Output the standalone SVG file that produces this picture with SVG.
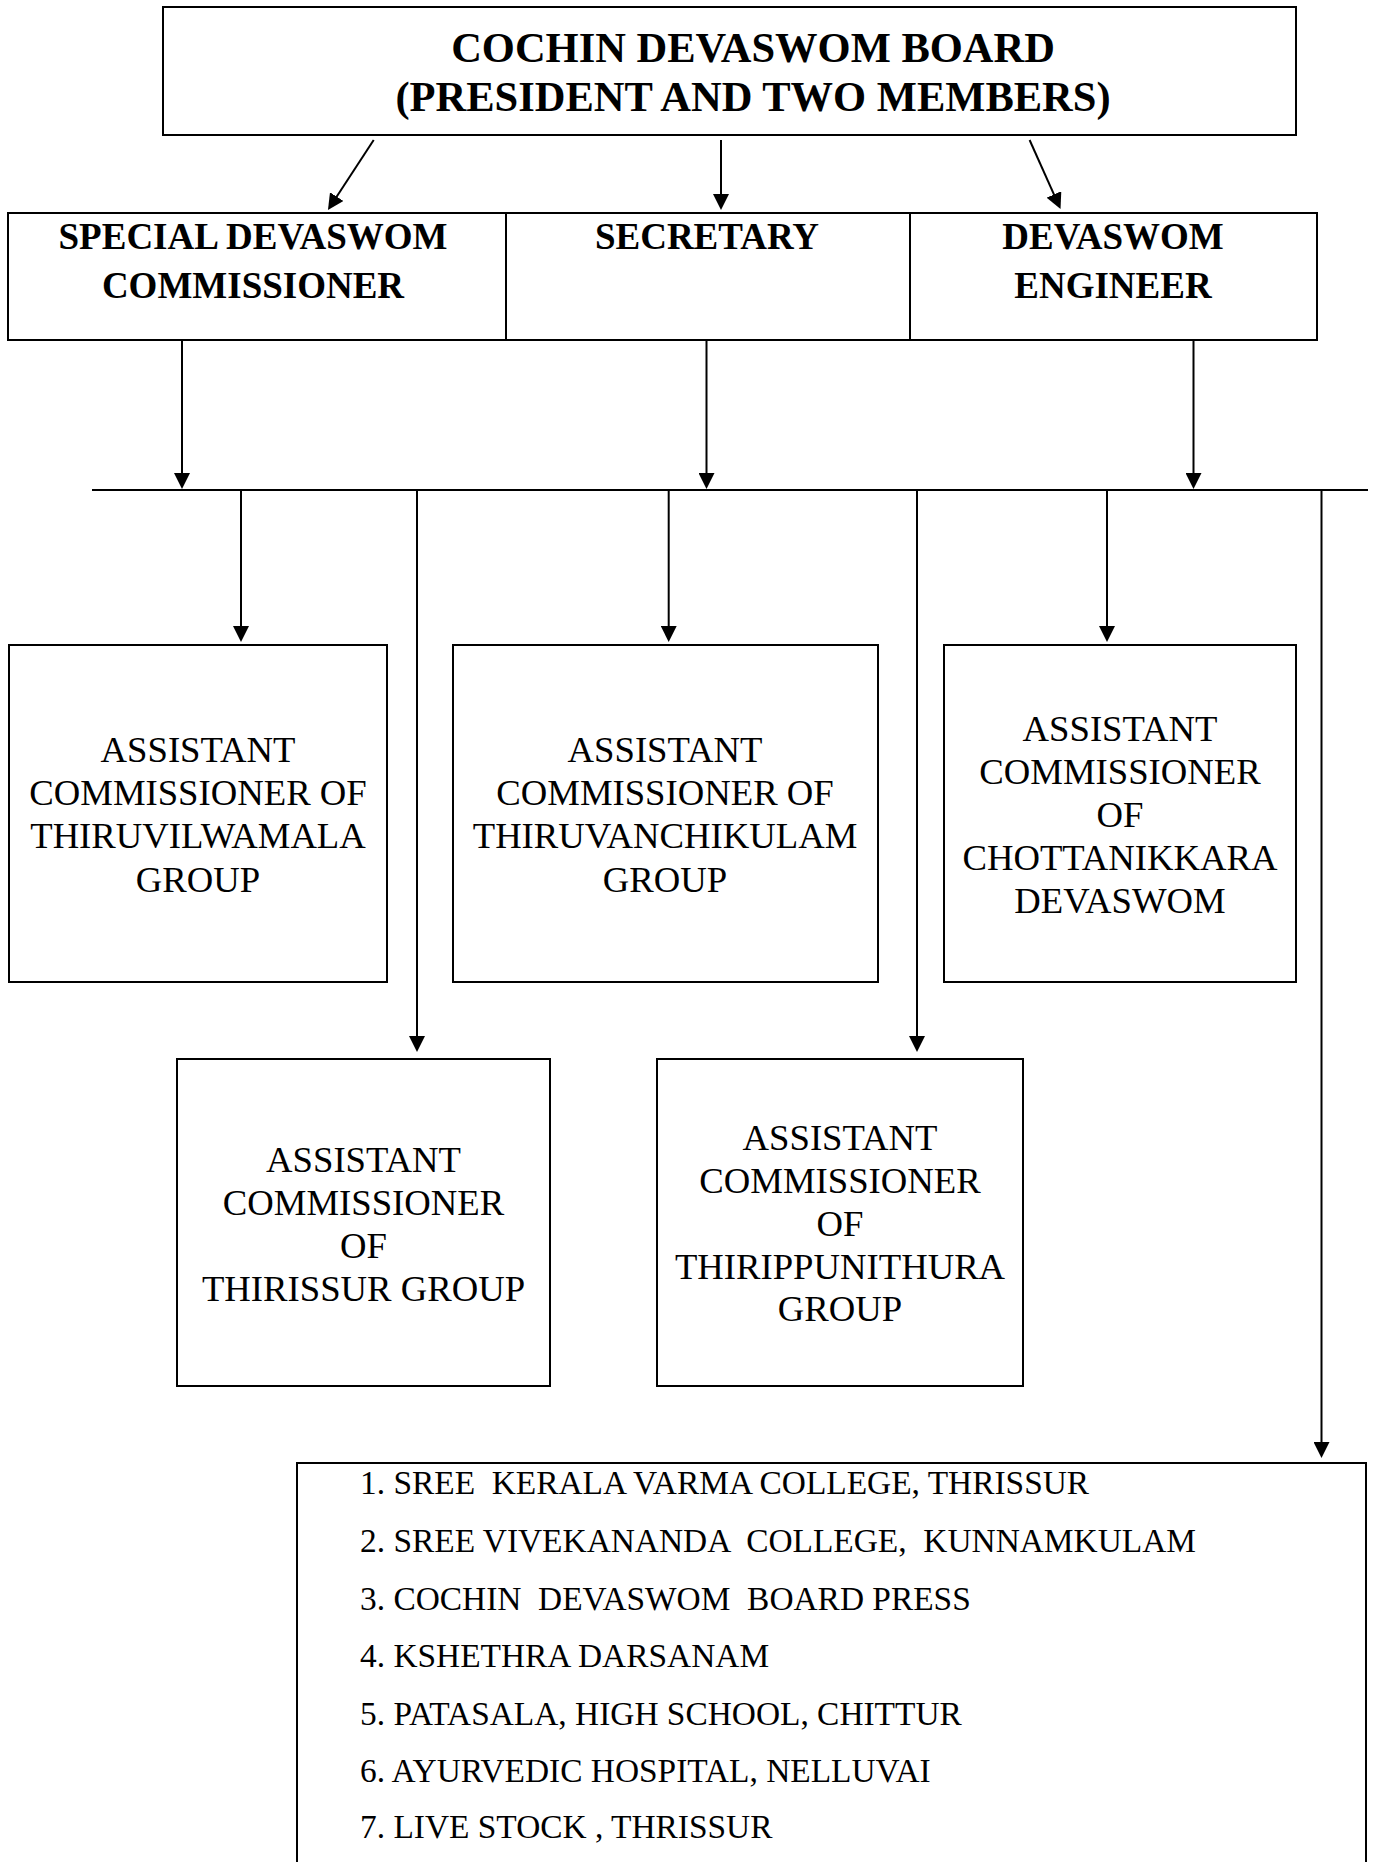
<svg xmlns="http://www.w3.org/2000/svg" width="1374" height="1862" viewBox="0 0 1374 1862">
<style>
.box{fill:#fff;stroke:#000;stroke-width:2}
.ln{stroke:#000;stroke-width:2;fill:none}
.arr{stroke:#000;stroke-width:2;fill:none;marker-end:url(#ah)}
.t{font-family:"Liberation Serif","Times New Roman",serif;fill:#000;text-anchor:middle}
.b{font-weight:bold}
.title{font-size:42.5px}
.h{font-size:37px}
.n{font-size:36.7px}
.li{font-family:"Liberation Serif","Times New Roman",serif;font-size:33.4px;fill:#000;white-space:pre}
</style>
<defs>
<marker id="ah" markerUnits="userSpaceOnUse" viewBox="0 0 16 16" refX="13" refY="8" markerWidth="16" markerHeight="16" orient="auto">
<path d="M0,0 L16,8 L0,16 z" fill="#000"/>
</marker>
</defs>
<rect width="1374" height="1862" fill="#fff"/>

<g id="connectors">
<line class="arr" x1="373.7" y1="140" x2="329.6" y2="207.5"/>
<line class="arr" x1="721" y1="140" x2="721" y2="207"/>
<line class="arr" x1="1029.6" y1="140" x2="1059.3" y2="206.3"/>
<line class="arr" x1="182" y1="340" x2="182" y2="486"/>
<line class="arr" x1="706.5" y1="340" x2="706.5" y2="486"/>
<line class="arr" x1="1193.5" y1="340" x2="1193.5" y2="486"/>
<line class="ln" x1="92" y1="490" x2="1368" y2="490"/>
<line class="arr" x1="241" y1="490" x2="241" y2="639"/>
<line class="arr" x1="417" y1="490" x2="417" y2="1049"/>
<line class="arr" x1="668.7" y1="490" x2="668.7" y2="639"/>
<line class="arr" x1="917" y1="490" x2="917" y2="1049"/>
<line class="arr" x1="1107" y1="490" x2="1107" y2="639"/>
<line class="arr" x1="1321.5" y1="490" x2="1321.5" y2="1455"/>
</g>

<g id="board">
<rect class="box" x="163" y="7" width="1133" height="128"/>
<text class="t b title" x="753" y="62">COCHIN DEVASWOM BOARD</text>
<text class="t b title" x="753" y="111">(PRESIDENT AND TWO MEMBERS)</text>
</g>

<g id="special-commissioner">
<rect class="box" x="8" y="213" width="498" height="127"/>
<text class="t b h" x="253" y="249">SPECIAL DEVASWOM</text>
<text class="t b h" x="253" y="298">COMMISSIONER</text>
</g>
<g id="secretary">
<rect class="box" x="506" y="213" width="404" height="127"/>
<text class="t b h" x="707" y="249">SECRETARY</text>
</g>
<g id="engineer">
<rect class="box" x="910" y="213" width="407" height="127"/>
<text class="t b h" x="1113" y="249">DEVASWOM</text>
<text class="t b h" x="1113" y="298">ENGINEER</text>
</g>

<g id="ac-thiruvilwamala">
<rect class="box" x="9" y="645" width="378" height="337"/>
<text class="t n" x="198" y="762">ASSISTANT</text>
<text class="t n" x="198" y="805">COMMISSIONER OF</text>
<text class="t n" x="198" y="848">THIRUVILWAMALA</text>
<text class="t n" x="198" y="892">GROUP</text>
</g>
<g id="ac-thiruvanchikulam">
<rect class="box" x="453" y="645" width="425" height="337"/>
<text class="t n" x="665" y="762">ASSISTANT</text>
<text class="t n" x="665" y="805">COMMISSIONER OF</text>
<text class="t n" x="665" y="848">THIRUVANCHIKULAM</text>
<text class="t n" x="665" y="892">GROUP</text>
</g>
<g id="ac-chottanikkara">
<rect class="box" x="944" y="645" width="352" height="337"/>
<text class="t n" x="1120" y="741">ASSISTANT</text>
<text class="t n" x="1120" y="784">COMMISSIONER</text>
<text class="t n" x="1120" y="827">OF</text>
<text class="t n" x="1120" y="870">CHOTTANIKKARA</text>
<text class="t n" x="1120" y="913">DEVASWOM</text>
</g>
<g id="ac-thirissur">
<rect class="box" x="177" y="1059" width="373" height="327"/>
<text class="t n" x="363.5" y="1172">ASSISTANT</text>
<text class="t n" x="363.5" y="1215">COMMISSIONER</text>
<text class="t n" x="363.5" y="1258">OF</text>
<text class="t n" x="363.5" y="1301">THIRISSUR GROUP</text>
</g>
<g id="ac-thirippunithura">
<rect class="box" x="657" y="1059" width="366" height="327"/>
<text class="t n" x="840" y="1150">ASSISTANT</text>
<text class="t n" x="840" y="1193">COMMISSIONER</text>
<text class="t n" x="840" y="1236">OF</text>
<text class="t n" x="840" y="1279">THIRIPPUNITHURA</text>
<text class="t n" x="840" y="1321">GROUP</text>
</g>
<g id="institutions">
<rect class="box" x="297" y="1463" width="1069" height="430"/>
<text class="li" x="360" y="1494" xml:space="preserve">1. SREE  KERALA VARMA COLLEGE, THRISSUR</text>
<text class="li" x="360" y="1552" xml:space="preserve">2. SREE VIVEKANANDA  COLLEGE,  KUNNAMKULAM</text>
<text class="li" x="360" y="1610" xml:space="preserve">3. COCHIN  DEVASWOM  BOARD PRESS</text>
<text class="li" x="360" y="1667" xml:space="preserve">4. KSHETHRA DARSANAM</text>
<text class="li" x="360" y="1725" xml:space="preserve">5. PATASALA, HIGH SCHOOL, CHITTUR</text>
<text class="li" x="360" y="1782" xml:space="preserve">6. AYURVEDIC HOSPITAL, NELLUVAI</text>
<text class="li" x="360" y="1838" xml:space="preserve">7. LIVE STOCK , THRISSUR</text>
</g>
</svg>
